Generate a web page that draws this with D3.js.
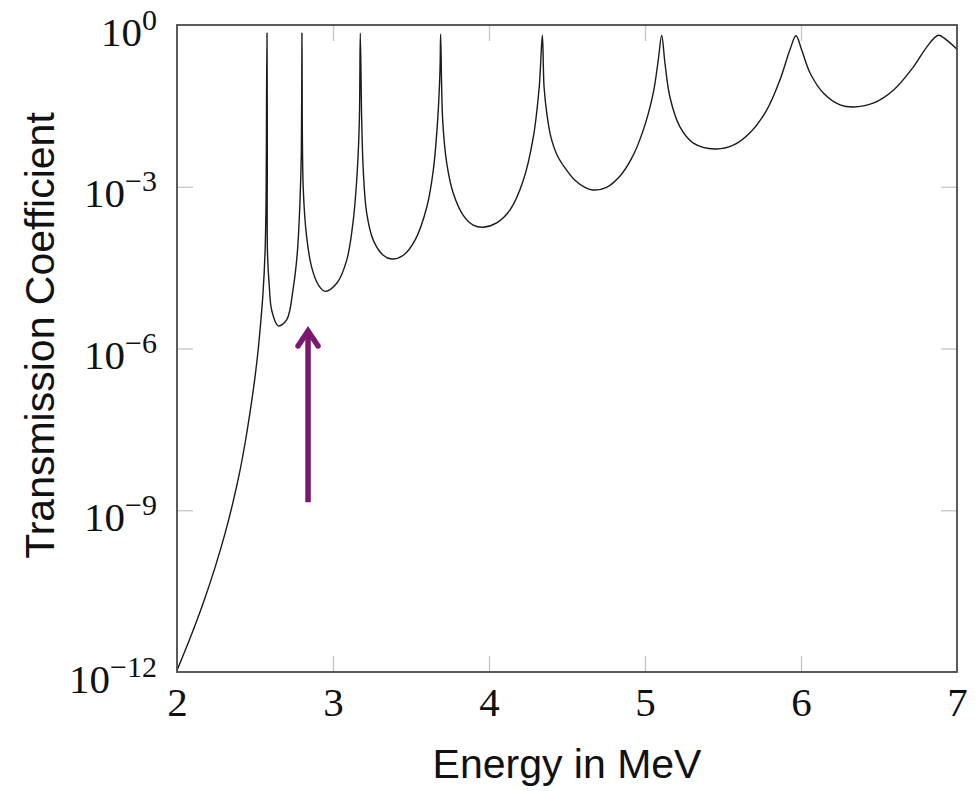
<!DOCTYPE html>
<html>
<head>
    <title>Transmission Coefficient</title>
    <script src="https://cdnjs.cloudflare.com/ajax/libs/d3/7.8.5/d3.min.js"></script>
    <style>
        body {
            margin: 0;
            background: white;
        }
        .tick line {
            stroke: #c4c4c4;
            stroke-width: 1.3px;
        }
        .tick text {
            font-family: "Liberation Serif", "DejaVu Serif", serif;
            font-size: 41px;
            fill: #111;
        }
        .title {
            font-family: "Liberation Sans", Arial, sans-serif;
            font-size: 41px;
            fill: #111;
        }
    </style>
</head>
<body>
    <div id="chart"></div>

    <script>
        // Data: energy (MeV) and log10 of the transmission coefficient
        const energy = [
            2.000, 2.083, 2.167, 2.244, 2.308, 2.359, 2.404, 2.442, 2.474, 2.500, 2.519, 2.538, 2.551, 2.564,
            2.571, 2.574, 2.577,
            2.579, 2.580, 2.592, 2.607, 2.649, 2.703, 2.746, 2.771, 2.788, 2.797, 2.801,
            2.809, 2.831, 2.863, 2.906, 2.949, 3.024, 3.088, 3.130, 3.156, 3.169, 3.175,
            3.184, 3.194, 3.216, 3.258, 3.322, 3.376, 3.451, 3.526, 3.601, 3.643, 3.671, 3.686, 3.690,
            3.703, 3.729, 3.771, 3.835, 3.899, 3.963, 4.049, 4.135, 4.220, 4.284, 4.322, 4.342,
            4.353, 4.372, 4.397, 4.436, 4.487, 4.551, 4.615, 4.667, 4.754, 4.840, 4.915, 4.989, 5.053, 5.085, 5.107,
            5.128, 5.160, 5.224, 5.310, 5.449, 5.566, 5.673, 5.780, 5.865, 5.929, 5.968,
            6.004, 6.058, 6.143, 6.250, 6.335, 6.463, 6.592, 6.720, 6.806, 6.880, 6.934, 7.000
        ];
        const log10T = [
            -11.97, -11.38, -10.73, -10.06, -9.43, -8.85, -8.26, -7.66, -7.07, -6.53, -6.06, -5.47, -4.99, -4.25,
            -3.25, -1.39, -0.15,
            -2.32, -4.23, -4.86, -5.29, -5.58, -5.47, -4.86, -4.23, -3.30, -2.37, -0.15,
            -3.01, -3.93, -4.49, -4.82, -4.94, -4.79, -4.36, -3.62, -2.69, -1.76, -0.15,
            -1.76, -2.69, -3.49, -3.99, -4.27, -4.34, -4.27, -3.99, -3.38, -2.69, -1.76, -0.83, -0.17,
            -1.76, -2.56, -3.12, -3.53, -3.71, -3.75, -3.67, -3.43, -2.88, -2.08, -1.15, -0.19,
            -1.15, -1.67, -2.08, -2.41, -2.65, -2.88, -3.01, -3.06, -3.01, -2.80, -2.47, -1.95, -1.26, -0.65, -0.19,
            -0.71, -1.34, -1.89, -2.19, -2.30, -2.23, -2.00, -1.58, -1.02, -0.46, -0.20,
            -0.46, -0.89, -1.26, -1.48, -1.52, -1.45, -1.21, -0.78, -0.41, -0.19, -0.28, -0.45
        ];

        // Axis ticks
        const xTicks = [2, 3, 4, 5, 6, 7];
        const yExponents = [0, -3, -6, -9, -12];

        // Arrow annotation (energy, from / to log10 T)
        const arrowEnergy = 2.84;
        const arrowFrom = -8.85;
        const arrowTo = -5.6;

        const width = 980;
        const height = 791;
        const margin = { top: 25, right: 23, bottom: 119, left: 177 };

        const svg = d3.select("#chart")
            .append("svg")
            .attr("width", width)
            .attr("height", height);

        const x = d3.scaleLinear()
            .domain([2, 7])
            .range([margin.left, width - margin.right]);

        const y = d3.scaleLog()
            .domain([1e-12, 1])
            .range([height - margin.bottom, margin.top]);

        const data = energy.map((e, i) => ({ e: e, t: Math.pow(10, log10T[i]) }));

        // Ticks on all four sides, pointing inward
        svg.append("g")
            .attr("transform", `translate(0,${y(1e-12)})`)
            .call(d3.axisBottom(x).tickValues(xTicks).tickFormat(d3.format("d")).tickSize(-16).tickPadding(15))
            .call(g => g.select(".domain").remove());

        svg.append("g")
            .attr("transform", `translate(0,${y(1)})`)
            .call(d3.axisTop(x).tickValues(xTicks.slice(1, -1)).tickSize(-16).tickFormat(""))
            .call(g => g.select(".domain").remove());

        const yAxis = svg.append("g")
            .attr("transform", `translate(${x(2)},0)`)
            .call(d3.axisLeft(y)
                .tickValues(yExponents.map(p => Math.pow(10, p)))
                .tickSize(-16)
                .tickPadding(20))
            .call(g => g.select(".domain").remove());

        svg.append("g")
            .attr("transform", `translate(${x(7)},0)`)
            .call(d3.axisRight(y)
                .tickValues(yExponents.slice(1, -1).map(p => Math.pow(10, p)))
                .tickSize(-16)
                .tickFormat(""))
            .call(g => g.select(".domain").remove());

        // hide tick marks that sit on the frame
        yAxis.selectAll(".tick line").filter(d => d === 1 || d === 1e-12).remove();
        svg.selectAll(".tick line").filter(function(d) { return d === 2 || d === 7; }).remove();

        // 10^n labels
        yAxis.selectAll(".tick text")
            .text("")
            .attr("dy", "20px")
            .each(function(d) {
                const p = Math.round(Math.log10(d));
                const t = d3.select(this);
                t.append("tspan").text("10");
                t.append("tspan")
                    .attr("dy", "-16px")
                    .style("font-size", "30px")
                    .text(p === 0 ? "0" : "\u2212" + Math.abs(p));
            });

        // Curve
        const line = d3.line()
            .x(d => x(d.e))
            .y(d => y(d.t))
            .curve(d3.curveCatmullRom.alpha(0.5));

        svg.append("path")
            .datum(data)
            .attr("fill", "none")
            .attr("stroke", "#1a1a1a")
            .attr("stroke-width", 1.4)
            .attr("d", line);

        // Frame
        svg.append("rect")
            .attr("x", x(2))
            .attr("y", y(1))
            .attr("width", x(7) - x(2))
            .attr("height", y(1e-12) - y(1))
            .attr("fill", "none")
            .attr("stroke", "#4a4a4a")
            .attr("stroke-width", 1.8);

        // Arrow
        const purple = "#7b1870";
        const ax = x(arrowEnergy);
        const aTop = y(Math.pow(10, arrowTo));
        svg.append("line")
            .attr("x1", ax)
            .attr("x2", ax)
            .attr("y1", y(Math.pow(10, arrowFrom)))
            .attr("y2", aTop + 4)
            .attr("stroke", purple)
            .attr("stroke-width", 5.5);
        svg.append("path")
            .attr("d", `M${ax - 10},${aTop + 19} L${ax},${aTop + 4} L${ax + 10},${aTop + 19}`)
            .attr("fill", "none")
            .attr("stroke", purple)
            .attr("stroke-width", 5.5)
            .attr("stroke-linecap", "round");

        // Axis titles
        svg.append("text")
            .attr("class", "title")
            .attr("x", (x(2) + x(7)) / 2)
            .attr("y", 778)
            .attr("text-anchor", "middle")
            .text("Energy in MeV");

        svg.append("text")
            .attr("class", "title")
            .attr("transform", `translate(54,${(y(1) + y(1e-12)) / 2 - 13}) rotate(-90)`)
            .attr("text-anchor", "middle")
            .text("Transmission Coefficient");
    </script>
</body>
</html>
